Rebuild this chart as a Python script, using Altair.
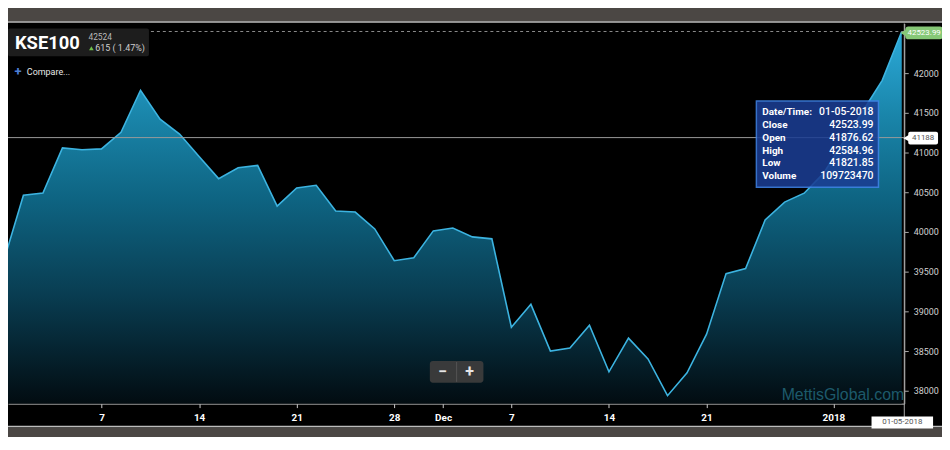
import altair as alt
import pandas as pd

# ---------------- data ----------------
dates = ["10-31-2017", "11-01-2017", "11-02-2017", "11-03-2017", "11-06-2017", "11-07-2017",
         "11-08-2017", "11-09-2017", "11-10-2017", "11-13-2017", "11-14-2017", "11-15-2017",
         "11-16-2017", "11-17-2017", "11-20-2017", "11-21-2017", "11-22-2017", "11-23-2017",
         "11-24-2017", "11-27-2017", "11-28-2017", "11-29-2017", "11-30-2017", "12-04-2017",
         "12-05-2017", "12-06-2017", "12-07-2017", "12-08-2017", "12-11-2017", "12-12-2017",
         "12-13-2017", "12-14-2017", "12-15-2017", "12-18-2017", "12-19-2017", "12-20-2017",
         "12-21-2017", "12-22-2017", "12-25-2017", "12-26-2017", "12-27-2017", "12-28-2017",
         "12-29-2017", "01-02-2018", "01-03-2018", "01-04-2018", "01-05-2018"]
close = [39640, 40462, 40491, 41059, 41034, 41046, 41254, 41784, 41421, 41233,
         40950, 40671, 40808, 40838, 40325, 40554, 40588, 40263, 40250, 40038,
         39638, 39675, 40013, 40050, 39938, 39913, 38800, 39088, 38500, 38538,
         38825, 38238, 38663, 38400, 37938, 38225, 38713, 39475, 39538, 40150,
         40375, 40488, 40740, 41130, 41520, 41909, 42523.99]

# x-axis ticks (trading-day positions; half positions fall on market holidays)
tick_pos = [5, 10, 15, 20, 22.5, 26, 31, 36, 42.5]
tick_labels = ["7", "14", "21", "28", "Dec", "7", "14", "21", "2018"]
y_ticks = [38000, 38500, 39000, 39500, 40000, 40500, 41000, 41500, 42000]

last_close = 42523.99
crosshair_value = 41188
tooltip_labels = ["Date/Time:", "Close", "Open", "High", "Low", "Volume"]
tooltip_values = ["01-05-2018", "42523.99", "41876.62", "42584.96", "41821.85", "109723470"]

df = pd.DataFrame({"i": list(range(len(close))), "date": dates, "close": close})

Y_MIN, Y_MAX = 37837.5, 42625
W, H = 903, 383
FONT = "Roboto"

xscale = alt.Scale(domain=[0.21, 46.13], nice=False, zero=False)
yscale = alt.Scale(domain=[Y_MIN, Y_MAX], nice=False, zero=False)

label_expr = " : ".join(
    f"datum.value == {p} ? '{l}'" for p, l in zip(tick_pos, tick_labels)
) + " : ''"

x_enc = alt.X("i:Q", scale=xscale, axis=alt.Axis(
    values=tick_pos, labelExpr=label_expr, title=None, grid=False,
    labelColor="#ffffff", labelFontWeight="bold", labelFontSize=10, labelFont=FONT,
    tickColor="#cccccc", tickSize=4, domainColor="#bbbbbb", labelPadding=5,
    labelFlush=False))
y_enc = alt.Y("close:Q", scale=yscale, axis=alt.Axis(
    orient="right", values=y_ticks, title=None, grid=False, format="d",
    labelColor="#d0d0d0", labelFontSize=9, labelFont=FONT, tickColor="#aaaaaa",
    tickSize=4, domainColor="#aaaaaa", labelPadding=5))

base = alt.Chart(df)

area = base.mark_area(
    clip=True,
    color=alt.Gradient(
        gradient="linear",
        stops=[alt.GradientStop(color="#2caad9", offset=0),
               alt.GradientStop(color="#1a86ab", offset=0.22),
               alt.GradientStop(color="#0e6482", offset=0.45),
               alt.GradientStop(color="#093e53", offset=0.7),
               alt.GradientStop(color="#020c11", offset=1)],
        x1=1, x2=1, y1=0, y2=1)
).encode(x=x_enc, y=y_enc, y2=alt.datum(Y_MIN))

line = base.mark_line(clip=True, color="#3cb3e0", strokeWidth=1.6).encode(
    x=alt.X("i:Q", scale=xscale), y=alt.Y("close:Q", scale=yscale))

one = pd.DataFrame({"k": [0]})


def box(x, x2, y, y2, color, **kw):
    return alt.Chart(one).mark_rect(color=color, **kw).encode(
        x=alt.value(x), x2=alt.value(x2), y=alt.value(y), y2=alt.value(y2))


def txt(x, y, s, **kw):
    kw.setdefault("font", FONT)
    return alt.Chart(one).mark_text(text=s, **kw).encode(x=alt.value(x), y=alt.value(y))


def hline(y, x, x2, color, **kw):
    return alt.Chart(one).mark_rule(color=color, **kw).encode(
        x=alt.value(x), x2=alt.value(x2), y=alt.value(y))


# frame bands (outside plot)
top_band = box(-20, 960, -20, -2, "#4b4744")
top_line = hline(-1.5, -20, 960, "#bdbdbd", strokeWidth=1.5)
bot_band = box(-20, 960, 407, 460, "#4b4744")
bot_line = hline(406, -20, 960, "#bdbdbd", strokeWidth=1.5)
right_rule = alt.Chart(one).mark_rule(color="#aaaaaa").encode(
    x=alt.value(W), y=alt.value(0), y2=alt.value(405))

# dashed last-price line and crosshair
dash = alt.Chart(one).mark_rule(color="#8a8a8a", strokeDash=[3, 3], strokeWidth=1).encode(
    y=alt.datum(last_close), x=alt.value(0), x2=alt.value(W))
cross = alt.Chart(one).mark_rule(color="#9a9a9a", strokeWidth=1).encode(
    y=alt.datum(crosshair_value), x=alt.value(0), x2=alt.value(W))

# right side tags
green_tri = alt.Chart(one).mark_point(shape="triangle-left", filled=True, size=45,
                                      color="#86c877", opacity=1).encode(
    x=alt.value(902), y=alt.value(9.5))
green_tag = box(904, 942, 3, 16, "#86c877", cornerRadius=3)
green_txt = txt(923, 9.5, f"{last_close:.2f}", color="#ffffff", fontSize=8,
                align="center", baseline="middle")
white_tri = alt.Chart(one).mark_point(shape="triangle-left", filled=True, size=45,
                                      color="#ffffff", opacity=1).encode(
    x=alt.value(905), y=alt.value(115.5))
white_tag = box(907, 937, 109, 122, "#ffffff", cornerRadius=2)
white_txt = txt(922, 115.5, str(crosshair_value), color="#555555", fontSize=8,
                align="center", baseline="middle")
date_tag = box(870, 932, 396, 408, "#ffffff")
date_txt = txt(901, 402, tooltip_values[0], color="#555555", fontSize=8,
               align="center", baseline="middle")

# watermark
watermark = txt(903, 374, "MettisGlobal.com", color="#1d5a6b", fontSize=16,
                align="right", baseline="middle", font="Liberation Sans")

# zoom buttons
zoom_box = box(425, 479, 340, 362, "#3c3c3c", cornerRadius=3, opacity=0.95)
zoom_div = alt.Chart(one).mark_rule(color="#555555").encode(
    x=alt.value(452), y=alt.value(341), y2=alt.value(361))
zoom_minus = txt(438, 351, "−", color="#e6e6e6", fontSize=16, fontWeight="bold",
                 align="center", baseline="middle")
zoom_plus = txt(465, 351, "+", color="#e6e6e6", fontSize=16, fontWeight="bold",
                align="center", baseline="middle")

# tooltip
tip_box = box(754, 877, 78, 165, "#1b3d92", opacity=0.88, stroke="#3f82e6",
              strokeWidth=1.5)
tip_layers = []
for k, (lab, val) in enumerate(zip(tooltip_labels, tooltip_values)):
    yy = 89 + k * 13
    tip_layers.append(txt(760, yy, lab, color="#ffffff", fontSize=10, fontWeight="bold",
                          align="left", baseline="middle"))
    tip_layers.append(txt(872, yy, val, color="#ffffff", fontSize=10.5, fontWeight=500,
                          align="right", baseline="middle"))

# header
hdr_box = box(0, 142, 5, 33, "#1d1d1d", cornerRadius=2)
hdr_title = txt(7, 19.5, "KSE100", color="#ffffff", fontSize=18.5, fontWeight="bold",
                align="left", baseline="middle")
hdr_val = txt(81, 14, "42524", color="#b8b8b8", fontSize=8.5, align="left",
              baseline="middle")
hdr_arrow = alt.Chart(one).mark_point(shape="triangle-up", filled=True, size=22,
                                      color="#6fc04a", opacity=1).encode(
    x=alt.value(84), y=alt.value(25))
hdr_chg = txt(88, 25, "615 ( 1.47%)", color="#cfcfcf", fontSize=9, align="left",
              baseline="middle")
cmp_plus = txt(10, 49, "+", color="#4d7fd6", fontSize=13, fontWeight="bold",
               align="center", baseline="middle")
cmp_txt = txt(19, 49, "Compare...", color="#e8e8e8", fontSize=9, align="left",
              baseline="middle")

chart = alt.layer(
    top_band, top_line, bot_band, bot_line,
    area, line, dash, cross, right_rule,
    green_tri, green_tag, green_txt, white_tri, white_tag, white_txt,
    date_tag, date_txt, watermark,
    zoom_box, zoom_div, zoom_minus, zoom_plus,
    tip_box, *tip_layers,
    hdr_box, hdr_title, hdr_val, hdr_arrow, hdr_chg, cmp_plus, cmp_txt,
).properties(
    width=W, height=H,
    autosize=alt.AutoSizeParams(type="none"),
    padding={"left": 0, "top": 14, "right": 38, "bottom": 32},
    background="#000000",
).configure_view(
    stroke=None, fill="#000000"
)

chart.save("out.html", embed_options={"renderer": "svg", "actions": False})
